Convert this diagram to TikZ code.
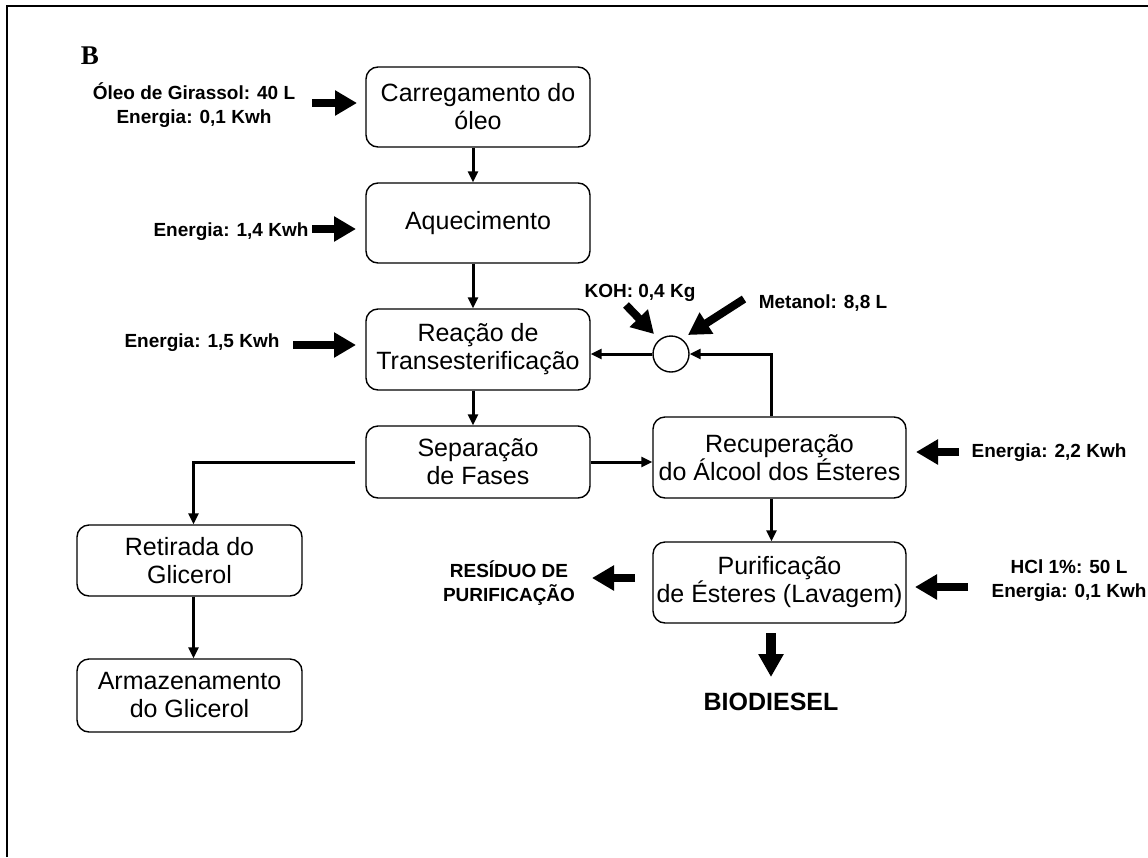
\documentclass[tikz,border=0pt]{standalone}
\usepackage{fontspec}
\setmainfont{Liberation Sans}
\newfontfamily\serifbold{Liberation Serif}
\usetikzlibrary{arrows.meta,positioning,calc}

\begin{document}
\begin{tikzpicture}[x=1pt, y=-1pt,
    procbox/.style={draw, rounded corners=12pt, line width=1.4pt, align=center,
        inner sep=0pt, font=\fontsize{25}{28}\selectfont},
    inlabel/.style={align=center, font=\bfseries\fontsize{19}{24}\selectfont},
    flow/.style={line width=3pt, -{Triangle[width=10pt,length=11pt]}},
    fatflow/.style={line width=8pt, -{Triangle[width=24pt,length=22pt]}}]
    \useasboundingbox (0,0) rectangle (1148,857);

    % Frame and panel letter
    \draw[line width=2pt] (7,857) -- (7,6) -- (1148,6);
    \node[font=\serifbold\bfseries\fontsize{27}{27}\selectfont] (tag) at (90,56) {B};

    % Process steps
    \node[procbox, minimum width=224pt, minimum height=80pt] (carga) at (478,107) {Carregamento do\\óleo};
    \node[procbox, minimum width=224pt, minimum height=80pt] (aquec) at (478,223) {Aquecimento};
    \node[procbox, minimum width=224pt, minimum height=81pt] (reacao) at (478,349.5) {Reação de\\Transesterificação};
    \node[procbox, minimum width=224pt, minimum height=72pt] (separa) at (478,462) {Separação\\de Fases};
    \node[procbox, minimum width=253pt, minimum height=81pt] (recup) at (779.5,457.5) {Recuperação\\do Álcool dos Ésteres};
    \node[procbox, minimum width=253pt, minimum height=81pt] (purif) at (779.5,582.5) {Purificação\\de Ésteres (Lavagem)};
    \node[procbox, minimum width=225pt, minimum height=71pt] (retira) at (189.5,560.5) {Retirada do\\Glicerol};
    \node[procbox, minimum width=225pt, minimum height=73pt] (armaz) at (189.5,695.5) {Armazenamento\\do Glicerol};
    \node[draw, circle, line width=1.4pt, minimum size=36pt, inner sep=0pt] (mix) at (671,354) {};

    % Flow between steps
    \draw[flow] ([xshift=-5pt]carga.south) -- ([xshift=-5pt]aquec.north);
    \draw[flow] ([xshift=-5pt]aquec.south) -- ([xshift=-5pt]reacao.north);
    \draw[flow] ([xshift=-5pt]reacao.south) -- ([xshift=-5pt]separa.north);
    \draw[flow] ([xshift=-10pt]separa.west) -| ([xshift=4pt]retira.north);
    \draw[flow] ([xshift=4pt]retira.south) -- ([xshift=4pt]armaz.north);
    \draw[flow] (separa.east) -- (separa.east -| recup.west);
    \draw[flow] ([xshift=-8pt]recup.north) |- (mix.east);
    \draw[flow] (mix.west) -- (mix.west -| reacao.east);
    \draw[flow] ([xshift=-8pt]recup.south) -- ([xshift=-8pt]purif.north);

    % Inputs and outputs
    \node[inlabel] (oleo) at (194,105) {Óleo de Girassol: 40 L\\Energia: 0,1 Kwh};
    \node[inlabel] (en14) at (231,232) {Energia: 1,4 Kwh};
    \node[inlabel] (en15) at (202,343) {Energia: 1,5 Kwh};
    \node[inlabel] (koh) at (640,293) {KOH: 0,4 Kg};
    \node[inlabel] (metanol) at (823,303) {Metanol: 8,8 L};
    \node[inlabel] (en22) at (1049,453) {Energia: 2,2 Kwh};
    \node[inlabel] (hcl) at (1069,581) {HCl 1\%: 50 L\\Energia: 0,1 Kwh};
    \node[inlabel] (residuo) at (509,583) {RESÍDUO DE\\PURIFICAÇÃO};
    \node[font=\bfseries\fontsize{25}{28}\selectfont] (biodiesel) at (771,702) {BIODIESEL};

    \coordinate (oleoA) at (312,103);   \coordinate (oleoB) at (357,103);
    \coordinate (en14A) at (312,229);   \coordinate (en14B) at (356,229);
    \coordinate (en15A) at (293,345);   \coordinate (en15B) at (356,345);
    \coordinate (kohA) at (626,305);    \coordinate (kohB) at (654,334);
    \coordinate (metA) at (744,299);    \coordinate (metB) at (688,335);
    \coordinate (en22A) at (959,452);   \coordinate (en22B) at (916,452);
    \coordinate (hclA) at (968,587);    \coordinate (hclB) at (915,587);
    \coordinate (resA) at (635,578);    \coordinate (resB) at (592,578);
    \coordinate (bioA) at (771,633);    \coordinate (bioB) at (771,677);

    \foreach \a/\b in {oleoA/oleoB, en14A/en14B, en15A/en15B, kohA/kohB, metA/metB,
        en22A/en22B, hclA/hclB, resA/resB} {
        \draw[fatflow] (\a) -- (\b);
    }
    \draw[line width=10pt, -{Triangle[width=24pt,length=23pt]}] (bioA) -- (bioB);
\end{tikzpicture}
\end{document}
